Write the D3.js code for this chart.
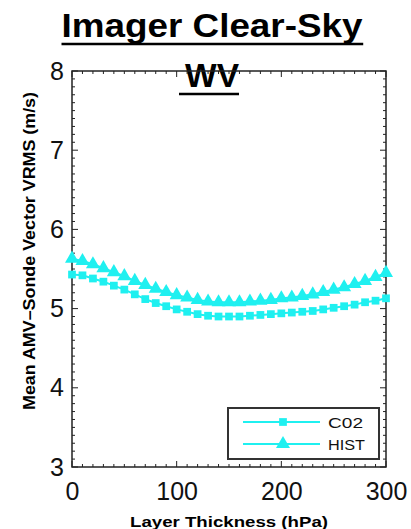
<!DOCTYPE html>
<html>
<head>
<meta charset="utf-8">
<script src="https://cdn.jsdelivr.net/npm/d3@7/dist/d3.min.js"></script>
<style>
html,body{margin:0;padding:0;background:#fff;}
svg{display:block;}
</style>
</head>
<body>
<svg id="chart" width="411" height="529"></svg>
<script>
const thickness = [0,10,20,30,40,50,60,70,80,90,100,110,120,130,140,150,160,170,180,190,200,210,220,230,240,250,260,270,280,290,300];
const co2 = [5.43,5.42,5.38,5.34,5.29,5.24,5.18,5.12,5.07,5.03,4.99,4.96,4.93,4.91,4.90,4.90,4.90,4.91,4.92,4.93,4.94,4.95,4.96,4.97,4.99,5.01,5.03,5.05,5.08,5.10,5.13];
const hist = [5.63,5.60,5.56,5.51,5.46,5.41,5.35,5.30,5.25,5.21,5.17,5.14,5.11,5.09,5.08,5.08,5.08,5.09,5.10,5.11,5.13,5.14,5.16,5.18,5.21,5.24,5.27,5.31,5.35,5.40,5.45];
const xTicks = [0,100,200,300];
const yTicks = [3,4,5,6,7,8];
const seriesNames = ["C02","HIST"];
const titleLines = ["Imager Clear-Sky","WV"];
const xLabel = "Layer Thickness (hPa)";
const yLabel = "Mean AMV\u2013Sonde Vector VRMS (m/s)";

const W = 411, H = 529;
const m = {l:72, r:25, t:71, b:62};
const svg = d3.select("#chart");
const x = d3.scaleLinear().domain([0,300]).range([m.l, W-m.r]);
const y = d3.scaleLinear().domain([3,8]).range([H-m.b, m.t]);
const cyan = "#1ff0f0";
const axisCol = "#222";
const fontB = "Liberation Sans, Arial, sans-serif";

// title
const titleBase = [37, 87];
const titleLen = [301, 54];
titleLines.forEach((t,i)=>{
  const tx = svg.append("text").attr("x",212).attr("y",titleBase[i])
    .attr("text-anchor","middle").attr("font-family",fontB).attr("font-weight","bold")
    .attr("font-size",33).attr("fill","#000")
    .attr("textLength",titleLen[i]).attr("lengthAdjust","spacingAndGlyphs").text(t);
  const bb = tx.node().getBBox();
  svg.append("line").attr("x1",bb.x-(i?6:0)).attr("x2",bb.x+bb.width)
    .attr("y1",titleBase[i]+7).attr("y2",titleBase[i]+7).attr("stroke","#000").attr("stroke-width",2.5);
});

// minor/major ticks
const g = svg.append("g");
const xMinor = d3.range(0,301,10);
const yMinor = d3.range(30,81,1).map(v=>v/10);
xMinor.forEach(v=>{
  const len = (v%100===0)?6:3;
  g.append("line").attr("x1",x(v)).attr("x2",x(v)).attr("y1",y(3)).attr("y2",y(3)-len).attr("stroke",axisCol).attr("stroke-width",1);
  g.append("line").attr("x1",x(v)).attr("x2",x(v)).attr("y1",y(8)).attr("y2",y(8)+len).attr("stroke",axisCol).attr("stroke-width",1);
});
yMinor.forEach(v=>{
  const len = (Math.abs(v-Math.round(v))<1e-6)?6:3;
  g.append("line").attr("x1",x(0)).attr("x2",x(0)+len).attr("y1",y(v)).attr("y2",y(v)).attr("stroke",axisCol).attr("stroke-width",1);
  g.append("line").attr("x1",x(300)).attr("x2",x(300)-len).attr("y1",y(v)).attr("y2",y(v)).attr("stroke",axisCol).attr("stroke-width",1);
});
g.append("rect").attr("x",x(0)).attr("y",y(8)).attr("width",x(300)-x(0)).attr("height",y(3)-y(8))
  .attr("fill","none").attr("stroke",axisCol).attr("stroke-width",1.5);

// axes labels via d3 axis
const xAxis = svg.append("g").attr("transform",`translate(0,${y(3)})`)
  .call(d3.axisBottom(x).tickValues(xTicks).tickSize(0).tickPadding(15).tickFormat(d3.format("d")));
xAxis.select(".domain").remove();
xAxis.selectAll("text").attr("font-family",fontB).attr("font-size",25).attr("fill","#111");
const yAxis = svg.append("g").attr("transform",`translate(${x(0)},0)`)
  .call(d3.axisLeft(y).tickValues(yTicks).tickSize(0).tickPadding(8).tickFormat(d3.format("d")));
yAxis.select(".domain").remove();
yAxis.selectAll("text").attr("font-family",fontB).attr("font-size",25).attr("fill","#111");

svg.append("text").attr("x",229).attr("y",527).attr("text-anchor","middle")
  .attr("font-family",fontB).attr("font-weight","bold").attr("font-size",15.5)
  .attr("textLength",198).attr("lengthAdjust","spacingAndGlyphs").text(xLabel);
svg.append("text").attr("transform",`translate(35,251) rotate(-90)`).attr("text-anchor","middle")
  .attr("font-family",fontB).attr("font-weight","bold").attr("font-size",16)
  .attr("textLength",318).attr("lengthAdjust","spacingAndGlyphs").text(yLabel);

// series
const data = [co2, hist];
const shapes = [d3.symbolSquare, d3.symbolTriangle];
const sizes = [60, 85];
const line = d3.line().x((d,i)=>x(thickness[i])).y(d=>y(d));
data.forEach((s,k)=>{
  svg.append("path").attr("d",line(s)).attr("fill","none").attr("stroke",cyan).attr("stroke-width",2);
  svg.append("g").selectAll("path").data(s).join("path")
    .attr("transform",(d,i)=>`translate(${x(thickness[i])},${y(d)})`)
    .attr("d",d3.symbol().type(shapes[k]).size(sizes[k])).attr("fill",cyan);
});

// legend
const lg = svg.append("g");
lg.append("rect").attr("x",228).attr("y",408).attr("width",151).attr("height",51)
  .attr("fill","#fff").attr("stroke","#333").attr("stroke-width",2);
const legLen = [35, 37];
seriesNames.forEach((n,k)=>{
  const ly = 422 + k*22;
  lg.append("line").attr("x1",243).attr("x2",320).attr("y1",ly).attr("y2",ly).attr("stroke",cyan).attr("stroke-width",2);
  lg.append("path").attr("transform",`translate(283,${ly})`).attr("d",d3.symbol().type(shapes[k]).size(sizes[k])).attr("fill",cyan);
  lg.append("text").attr("x",328).attr("y",ly+5.5).attr("font-family",fontB).attr("font-size",15).attr("fill","#111")
    .attr("textLength",legLen[k]).attr("lengthAdjust","spacingAndGlyphs").text(n);
});
</script>
</body>
</html>
